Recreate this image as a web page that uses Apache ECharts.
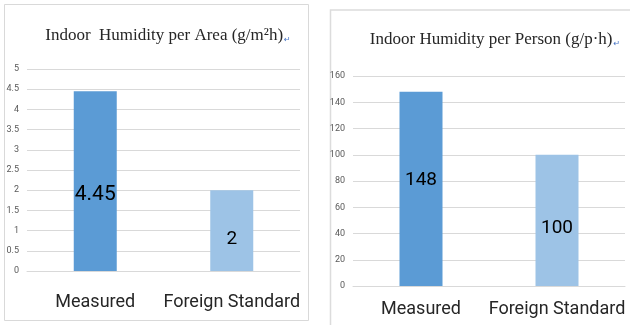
<!DOCTYPE html>
<html>
<head>
<meta charset="utf-8">
<script src="https://cdn.jsdelivr.net/npm/echarts@6/dist/echarts.min.js"></script>
<style>
  html, body { margin: 0; padding: 0; background: #fff; }
  #chart { width: 630px; height: 325px; }
</style>
</head>
<body>
<div id="chart"></div>
<script>
// Categories shared by both panels
const categories = ['Measured', 'Foreign Standard'];
// Indoor humidity per area, g/m²h
const areaValues = [4.45, 2];
// Indoor humidity per person, g/p·h
const personValues = [148, 100];
// Value axis ranges
const areaAxis = { min: 0, max: 5, interval: 0.5 };
const personAxis = { min: 0, max: 160, interval: 20 };
// Panel titles
const areaTitle = 'Indoor  Humidity per Area (g/m²h)';
const personTitle = 'Indoor Humidity per Person (g/p·h)';

const barColors = ['#5B9BD5', '#9DC3E6'];
const sans = "Roboto, 'Liberation Sans', sans-serif";
const serif = "'Liberation Serif', 'DejaVu Serif', serif";
const gridColor = '#d9d9d9';

function barData(values, labelSizes, labelOffsets) {
  return values.map((v, i) => ({
    value: v,
    itemStyle: { color: barColors[i] },
    label: { fontSize: labelSizes[i], offset: labelOffsets[i] }
  }));
}

function valueAxis(idx, range) {
  return {
    type: 'value', gridIndex: idx,
    min: range.min, max: range.max, interval: range.interval,
    axisLine: { show: false }, axisTick: { show: false },
    axisLabel: { color: '#595959', fontSize: 9, fontFamily: sans, margin: 8 },
    splitLine: { lineStyle: { color: gridColor, width: 1 } }
  };
}

function categoryAxis(idx, margin) {
  return {
    type: 'category', gridIndex: idx, data: categories,
    axisLine: { lineStyle: { color: gridColor } },
    axisTick: { show: false },
    axisLabel: { color: '#262626', fontSize: 18, fontFamily: sans, margin: margin, interval: 0 }
  };
}

const titleRich = {
  t: { fontFamily: serif, fontSize: 17, fontWeight: 'normal', color: '#262626' },
  r: { fontFamily: 'DejaVu Sans', fontSize: 8, fontWeight: 'normal', color: '#4472c4', padding: [8, 0, 0, 1] }
};

const chart = echarts.init(document.getElementById('chart'), null, { renderer: 'canvas' });
chart.setOption({
  animation: false,
  backgroundColor: '#fff',
  graphic: [
    { type: 'rect', shape: { x: 4.5, y: 4.5, width: 304, height: 316 },
      style: { fill: 'none', stroke: '#d9d9d9', lineWidth: 1 }, z: -1 },
    { type: 'rect', shape: { x: 330.5, y: 10, width: 305, height: 320 },
      style: { fill: 'none', stroke: '#dcdcdc', lineWidth: 1.5 }, z: -1 }
  ],
  title: [
    { text: '{t|' + areaTitle + '}{r|↵}', left: 163, top: 22, textAlign: 'center',
      textStyle: { fontWeight: 'normal', rich: titleRich } },
    { text: '{t|' + personTitle + '}{r|↵}', left: 490, top: 26, textAlign: 'center',
      textStyle: { fontWeight: 'normal', rich: titleRich } }
  ],
  grid: [
    { left: 27, right: 330, top: 69, bottom: 54 },
    { left: 353, right: 5, top: 76, bottom: 39 }
  ],
  xAxis: [categoryAxis(0, 22), categoryAxis(1, 14)],
  yAxis: [valueAxis(0, areaAxis), valueAxis(1, personAxis)],
  series: [
    {
      type: 'bar', xAxisIndex: 0, yAxisIndex: 0, barWidth: 43,
      data: barData(areaValues, [21, 19], [[0, 14], [0, 9]]),
      label: { show: true, position: 'inside', color: '#000', fontFamily: sans }
    },
    {
      type: 'bar', xAxisIndex: 1, yAxisIndex: 1, barWidth: 43,
      data: barData(personValues, [19, 19], [[0, -9], [0, 8]]),
      label: { show: true, position: 'inside', color: '#000', fontFamily: sans }
    }
  ]
});
</script>
</body>
</html>
